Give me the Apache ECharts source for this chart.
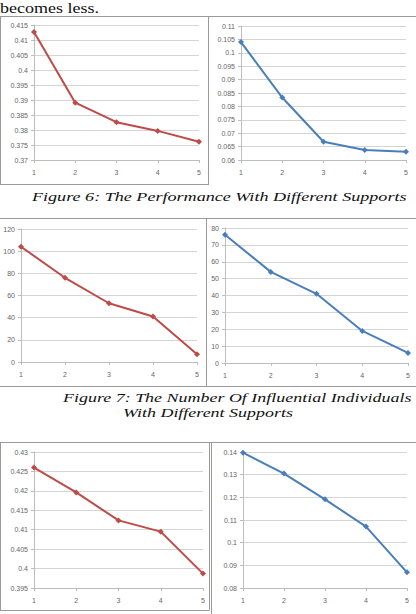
<!DOCTYPE html>
<html>
<head>
<meta charset="utf-8">
<script src="https://cdn.jsdelivr.net/npm/echarts@6/dist/echarts.min.js"></script>
<style>
  html, body { margin: 0; padding: 0; background: #fff; }
  .page { position: relative; width: 416px; height: 614px; overflow: hidden; background: #fff; }
  #charts { position: absolute; left: 0; top: 0; width: 416px; height: 614px; }
  .txt {
    position: absolute;
    white-space: nowrap;
    font-family: 'Liberation Serif', 'Times New Roman', 'DejaVu Serif', serif;
    color: #111;
    transform-origin: left top;
  }
  .lead { left: 0; top: 1px; font-size: 15px; line-height: 15px; transform: scaleX(1.2); }
  .cap { font-style: italic; font-size: 13.5px; line-height: 15px; }
  .cap6 { left: 32px; top: 189px; transform: scaleX(1.34); }
  .cap7a { left: 63px; top: 389.5px; transform: scaleX(1.33); }
  .cap7b { left: 123px; top: 404.5px; transform: scaleX(1.33); }
</style>
</head>
<body>
<div class="page">
  <div id="charts"></div>
  <div class="txt lead">becomes less.</div>
  <div class="txt cap cap6">Figure 6: The Performance With Different Supports</div>
  <div class="txt cap cap7a">Figure 7: The Number Of Influential Individuals</div>
  <div class="txt cap cap7b">With Different Supports</div>
</div>

<script>
// support levels on the x axis
const supports = ['1', '2', '3', '4', '5']

// figure 6 - performance
const perfRed = [0.4127, 0.3891, 0.3826, 0.3797, 0.3761]
const perfBlue = [0.104, 0.0833, 0.0668, 0.0637, 0.0631]

// figure 7 - number of influential individuals
const countRed = [104, 76, 53, 41, 7]
const countBlue = [76, 54, 41, 19, 6]

// bottom row
const lowerRed = [0.426, 0.4196, 0.4124, 0.4095, 0.3987]
const lowerBlue = [0.1397, 0.1305, 0.1191, 0.1071, 0.0869]

const RED = '#be4b48'
const BLUE = '#4a7ebb'

const panels = [
  { grid: { left: 34, top: 25, width: 165, height: 135 }, min: 0.37, max: 0.415, interval: 0.005, data: perfRed, color: RED },
  { grid: { left: 241, top: 26, width: 165, height: 134 }, min: 0.06, max: 0.11, interval: 0.005, data: perfBlue, color: BLUE },
  { grid: { left: 21, top: 229, width: 176, height: 133 }, min: 0, max: 120, interval: 20, data: countRed, color: RED },
  { grid: { left: 225, top: 228, width: 183, height: 135 }, min: 0, max: 80, interval: 10, data: countBlue, color: BLUE },
  { grid: { left: 34, top: 452, width: 169, height: 136 }, min: 0.395, max: 0.43, interval: 0.005, data: lowerRed, color: RED },
  { grid: { left: 243, top: 452, width: 164, height: 136 }, min: 0.08, max: 0.14, interval: 0.01, data: lowerBlue, color: BLUE }
]

const labelStyle = {
  color: '#666',
  fontSize: 7,
  fontFamily: 'Liberation Sans'
}

const chart = echarts.init(document.getElementById('charts'), null, { renderer: 'svg' })

const frame = (x1, y1, x2, y2) => ({
  type: 'line',
  shape: { x1, y1, x2, y2 },
  style: { stroke: '#9a9a9a', lineWidth: 1 },
  silent: true
})

const option = {
  animation: false,
  backgroundColor: 'transparent',
  grid: panels.map(p => ({ ...p.grid, containLabel: false })),
  xAxis: panels.map((p, i) => ({
    type: 'category',
    gridIndex: i,
    boundaryGap: false,
    data: supports,
    axisLine: { show: true, lineStyle: { color: '#bdbdbd', width: 1 } },
    axisTick: { show: true, length: 3, lineStyle: { color: '#bdbdbd' } },
    axisLabel: { ...labelStyle, margin: 9 },
    splitLine: { show: false }
  })),
  yAxis: panels.map((p, i) => ({
    type: 'value',
    gridIndex: i,
    min: p.min,
    max: p.max,
    interval: p.interval,
    axisLine: { show: true, lineStyle: { color: '#bdbdbd', width: 1 } },
    axisTick: { show: true, length: 3, lineStyle: { color: '#bdbdbd' } },
    axisLabel: {
      ...labelStyle,
      margin: 6,
      formatter: v => String(parseFloat(v.toFixed(4)))
    },
    splitLine: { show: true, lineStyle: { color: '#d4d4d4', width: 1.2 } }
  })),
  series: panels.map((p, i) => ({
    type: 'line',
    xAxisIndex: i,
    yAxisIndex: i,
    data: p.data,
    symbol: 'diamond',
    symbolSize: 6,
    showSymbol: true,
    lineStyle: { color: p.color, width: 2 },
    itemStyle: { color: p.color }
  })),
  graphic: [
    // top row frames
    frame(0, 16.5, 416, 16.5),
    frame(0.5, 16.5, 0.5, 184.5),
    frame(208.5, 16.5, 208.5, 185),
    frame(0, 184.5, 208, 184.5),
    // middle row frames
    frame(0, 218.5, 416, 218.5),
    frame(206.5, 218.5, 206.5, 387),
    frame(0, 386.5, 416, 386.5),
    // bottom row frames
    frame(0, 442.5, 416, 442.5),
    frame(0.5, 442.5, 0.5, 610.5),
    frame(0, 610.5, 209, 610.5),
    frame(209.5, 442.5, 209.5, 610.5),
    frame(211.5, 442.5, 211.5, 614)
  ]
}

chart.setOption(option)
</script>
</body>
</html>
